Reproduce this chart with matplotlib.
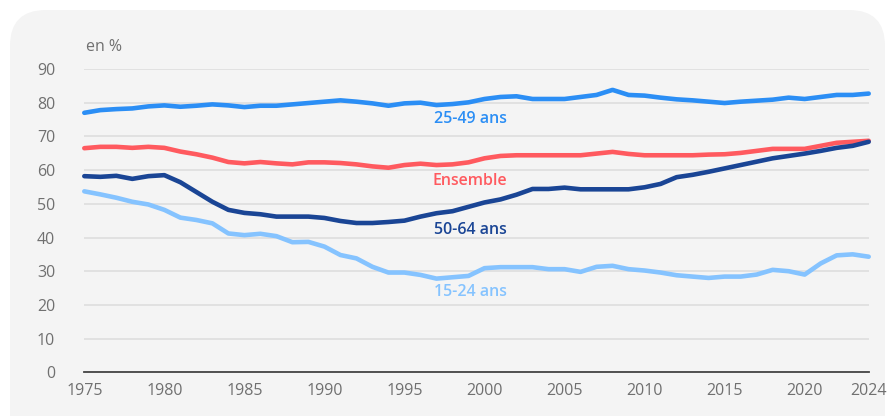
import matplotlib
matplotlib.use("Agg")
import matplotlib.pyplot as plt
from matplotlib.patches import FancyBboxPatch
import numpy as np

years = list(range(1975, 2025))

age_25_49 = [77.0, 77.8, 78.1, 78.3, 78.9, 79.2, 78.8, 79.1, 79.5, 79.2,
             78.7, 79.1, 79.1, 79.5, 79.9, 80.3, 80.7, 80.3, 79.8, 79.1,
             79.8, 80.0, 79.3, 79.6, 80.1, 81.1, 81.7, 81.9, 81.1, 81.1,
             81.1, 81.7, 82.3, 83.8, 82.3, 82.1, 81.5, 81.0, 80.7, 80.3,
             79.9, 80.3, 80.6, 80.9, 81.5, 81.1, 81.7, 82.3, 82.3, 82.7]

ensemble = [66.5, 66.9, 66.9, 66.6, 66.9, 66.6, 65.5, 64.7, 63.7, 62.4,
            62.0, 62.4, 62.0, 61.7, 62.3, 62.3, 62.1, 61.7, 61.1, 60.7,
            61.5, 61.9, 61.5, 61.7, 62.3, 63.5, 64.2, 64.4, 64.4, 64.4,
            64.4, 64.4, 64.9, 65.4, 64.8, 64.4, 64.4, 64.4, 64.4, 64.6,
            64.7, 65.1, 65.7, 66.3, 66.3, 66.3, 67.2, 68.1, 68.4, 68.7]

age_50_64 = [58.2, 58.0, 58.3, 57.4, 58.2, 58.5, 56.4, 53.5, 50.6, 48.2,
             47.3, 46.9, 46.2, 46.2, 46.2, 45.8, 44.9, 44.3, 44.3, 44.6,
             45.0, 46.2, 47.2, 47.8, 49.1, 50.4, 51.3, 52.7, 54.4, 54.4,
             54.8, 54.3, 54.3, 54.3, 54.3, 54.9, 55.9, 57.9, 58.6, 59.5,
             60.5, 61.5, 62.5, 63.5, 64.2, 64.9, 65.7, 66.6, 67.2, 68.4]

age_15_24 = [53.7, 52.8, 51.8, 50.6, 49.8, 48.2, 45.9, 45.2, 44.2, 41.2,
             40.7, 41.1, 40.4, 38.6, 38.7, 37.3, 34.8, 33.8, 31.3, 29.6,
             29.6, 28.9, 27.8, 28.2, 28.6, 30.9, 31.2, 31.2, 31.2, 30.6,
             30.6, 29.8, 31.3, 31.6, 30.6, 30.2, 29.6, 28.8, 28.4, 28.0,
             28.4, 28.4, 29.0, 30.4, 30.0, 29.0, 32.3, 34.7, 35.0, 34.3]

series_names = ["25-49 ans", "Ensemble", "50-64 ans", "15-24 ans"]
series_colors = ["#2b8ef5", "#ff5a5f", "#1a4595", "#85c3ff"]
label_y = [119, 181, 230.5, 291.5]  # pixel rows of inline labels (from top)

xticks = [1975, 1980, 1985, 1990, 1995, 2000, 2005, 2010, 2015, 2020, 2024]
yticks = [0, 10, 20, 30, 40, 50, 60, 70, 80, 90]

plt.rcParams['font.family'] = ['Open Sans', 'DejaVu Sans']

W, H = 895, 416
fig = plt.figure(figsize=(W / 100, H / 100), dpi=100)
fig.patch.set_facecolor("white")

# rounded panel background
panel = FancyBboxPatch((10 / W, -0.1), 875 / W, (H - 10) / H + 0.1,
                       boxstyle="round,pad=0,rounding_size=0.04",
                       transform=fig.transFigure, facecolor="#f4f4f4",
                       edgecolor="none", zorder=-5, mutation_aspect=W / H)
fig.patches.append(panel)

left, right = 84.3, 868.7
top, bottom = 69.0, 372.3
ax = fig.add_axes([left / W, (H - bottom) / H, (right - left) / W, (bottom - top) / H])
ax.set_zorder(2)
ax.set_facecolor("none")

for vals, col in zip([age_25_49, ensemble, age_50_64, age_15_24], series_colors):
    ax.plot(years, vals, color=col, lw=3.3, solid_capstyle="round",
            solid_joinstyle="round", zorder=3, clip_on=False)

ax.set_xlim(1975, 2024)
ax.set_ylim(0, 90)
ax.set_xticks(xticks)
ax.set_yticks(yticks)
ax.tick_params(axis="both", length=0, labelsize=11.5, colors="#707070")
ax.tick_params(axis="y", pad=21)
ax.tick_params(axis="x", pad=8)
ax.grid(axis="y", color="#dedede", lw=1.2, zorder=1)
ax.grid(axis="x", visible=False)
for s in ["top", "right", "left"]:
    ax.spines[s].set_visible(False)
ax.spines["bottom"].set_color("#444444")
ax.spines["bottom"].set_linewidth(1.3)
ax.spines["bottom"].set_zorder(2)

fig.text(86 / W, 1 - 47 / H, "en %", fontsize=11.5, color="#707070",
         ha="left", va="center", zorder=5)

for name, col, py in zip(series_names, series_colors, label_y):
    fig.text(470 / W, 1 - py / H, name, fontsize=11.5, color=col,
             ha="center", va="center", fontweight="semibold", zorder=5)

fig.savefig("out.png", dpi=100, facecolor=fig.get_facecolor())
